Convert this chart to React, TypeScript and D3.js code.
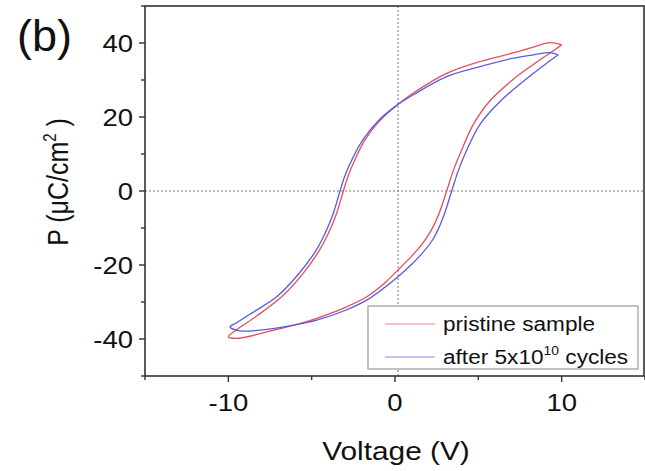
import React from "react";
import * as d3 from "d3";

// Pristine sample loop: descending branch (+10 V -> -10 V) then ascending branch back
const pristineV = [10.0, 9.3, 8.3, 7.1, 5.1, 3.1, 1.1, 0.0, -1.0, -1.8, -2.4, -2.8, -3.1, -3.5, -4.0, -4.6, -5.5, -6.7, -8.3, -9.5, -10.0,
  -9.4, -7.7, -6.0, -4.7, -3.0, -1.7, -0.6, 0.3, 1.0, 1.6, 2.1, 2.6, 3.1, 3.5, 3.9, 4.7, 5.7, 7.1, 8.3, 9.3, 10.0];
const pristineP = [39.5, 40.1, 38.9, 37.3, 35.0, 31.8, 26.5, 22.8, 18.6, 13.8, 8.5, 4.2, 0, -6, -11.5, -16.5, -22.2, -28.2, -33.8, -37.5, -39.4,
  -39.8, -38.1, -36.2, -34.4, -31.5, -28.6, -24.8, -20.8, -17.6, -14.5, -11.2, -6.6, 0, 5.5, 10.0, 18.0, 24.4, 30.2, 34.2, 37.3, 39.5];

// After 5x10^10 cycles
const cycledV = [9.8, 9.3, 8.3, 7.1, 5.1, 3.1, 1.1, 0.0, -1.0, -1.9, -2.55, -3.0, -3.3, -3.7, -4.2, -4.8, -5.8, -7.1, -8.6, -9.5, -9.9,
  -9.3, -7.7, -6.0, -4.7, -3.0, -1.7, -0.6, 0.3, 1.0, 1.6, 2.3, 2.9, 3.4, 3.8, 4.2, 5.1, 6.3, 7.8, 9.0, 9.8];
const cycledP = [36.8, 37.4, 36.8, 35.9, 33.6, 30.9, 26.0, 22.8, 19.0, 14.0, 8.8, 4.2, 0, -6, -11.5, -16.5, -22.5, -28.6, -33.0, -35.6, -36.7,
  -37.8, -37.4, -36.2, -34.9, -32.3, -29.5, -26.0, -22.7, -19.8, -17.0, -12.9, -7.0, 0, 5.5, 10.0, 18.0, 24.2, 30.0, 34.2, 36.8];

const xMajorTicks = [-10, 0, 10];
const xMinorTicks = [-15, -5, 5, 15];
const yMajorTicks = [-40, -20, 0, 20, 40];
const yMinorTicks = [-50, -30, -10, 10, 30, 50];

const seriesNames = ["pristine sample", "after 5x10"];
const seriesColors = ["#e0505e", "#5a5ae0"];

const W = 645;
const H = 471;
const left = 145, right = 645, top = 6, bottom = 376;
const SX = 1.17;

export default function App() {
  const x = d3.scaleLinear().domain([-15, 15]).range([left, right]);
  const y = d3.scaleLinear().domain([-50, 50]).range([bottom, top]);
  const line = d3
    .line<[number, number]>()
    .x((d) => x(d[0]))
    .y((d) => y(d[1]))
    .curve(d3.curveCatmullRom.alpha(0.5));

  const series = [
    pristineV.map((v, i) => [v, pristineP[i]] as [number, number]),
    cycledV.map((v, i) => [v, cycledP[i]] as [number, number]),
  ];

  const font = "Liberation Sans, Arial, Helvetica, sans-serif";
  const axisColor = "#333";

  return (
    <svg
      width={W}
      height={H}
      style={{ position: "absolute", left: 0, top: 0, background: "#fff" }}
      fontFamily={font}
    >
      <rect x={0} y={0} width={W} height={H} fill="#fff" />
      {/* crosshair dashed lines */}
      <line x1={x(0) + 3} x2={x(0) + 3} y1={top} y2={bottom} stroke="#777" strokeWidth={1} strokeDasharray="2,2" />
      <line x1={left} x2={right} y1={y(0)} y2={y(0)} stroke="#777" strokeWidth={1} strokeDasharray="2,2" />

      {/* curves */}
      {series.map((s, i) => (
        <path key={i} d={line(s) || ""} fill="none" stroke={seriesColors[i]} strokeWidth={1.3} strokeLinejoin="round" />
      ))}

      {/* frame */}
      <rect x={left} y={top} width={right - 1 - left} height={bottom - top} fill="none" stroke={axisColor} strokeWidth={1.6} />

      {/* x ticks */}
      {xMajorTicks.map((t) => (
        <g key={"xm" + t}>
          <line x1={x(t)} x2={x(t)} y1={bottom} y2={bottom + 6} stroke={axisColor} strokeWidth={1.4} />
          <text
            transform={`translate(${x(t)},${411}) scale(${SX},1)`}
            textAnchor="middle"
            fontSize={23.5}
            fill="#111"
          >
            {t}
          </text>
        </g>
      ))}
      {xMinorTicks.map((t) => (
        <line key={"xn" + t} x1={x(t)} x2={x(t)} y1={bottom} y2={bottom + 4} stroke={axisColor} strokeWidth={1.4} />
      ))}

      {/* y ticks */}
      {yMajorTicks.map((t) => (
        <g key={"ym" + t}>
          <line x1={left - 6} x2={left} y1={y(t)} y2={y(t)} stroke={axisColor} strokeWidth={1.4} />
          <text
            transform={`translate(${133},${y(t) + 8.5}) scale(${SX},1)`}
            textAnchor="end"
            fontSize={23.5}
            fill="#111"
          >
            {t}
          </text>
        </g>
      ))}
      {yMinorTicks.map((t) => (
        <line key={"yn" + t} x1={left - 4} x2={left} y1={y(t)} y2={y(t)} stroke={axisColor} strokeWidth={1.4} />
      ))}

      {/* axis titles */}
      <text transform={`translate(${396},${460}) scale(${SX},1)`} textAnchor="middle" fontSize={25.5} fill="#111">
        Voltage (V)
      </text>
      <text transform={`translate(${68},${182}) scale(${SX},1) rotate(-90)`} textAnchor="middle" fontSize={25} fill="#111">
        P (μC/cm<tspan fontSize={15} dy={-10}>2</tspan>
        <tspan dy={10}> )</tspan>
      </text>

      {/* panel label */}
      <text x={17} y={51} fontSize={45} fill="#111">
        (b)
      </text>

      {/* legend */}
      <rect x={368} y={306} width={270} height={63} fill="#fff" stroke="#999" strokeWidth={1.2} />
      <line x1={385} x2={435} y1={324} y2={324} stroke={seriesColors[0]} strokeWidth={1} opacity={0.7} />
      <line x1={385} x2={435} y1={357} y2={357} stroke={seriesColors[1]} strokeWidth={1} opacity={0.7} />
      <text transform={`translate(${443},${331}) scale(1.16,1)`} fontSize={19.5} fill="#111">
        {seriesNames[0]}
      </text>
      <text transform={`translate(${443},${364}) scale(1.16,1)`} fontSize={19.5} fill="#111">
        {seriesNames[1]}
        <tspan fontSize={12} dy={-9}>10</tspan>
        <tspan dy={9}> cycles</tspan>
      </text>
    </svg>
  );
}
